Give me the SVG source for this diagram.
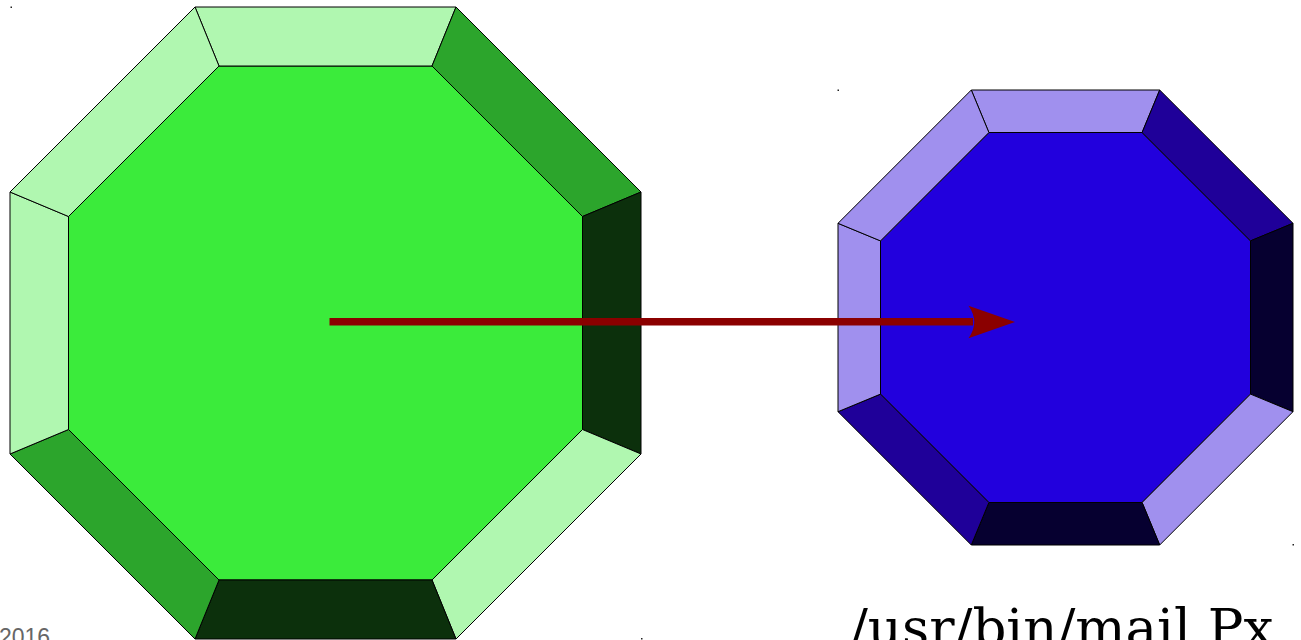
<svg xmlns="http://www.w3.org/2000/svg" width="1301" height="640" viewBox="0 0 1301 640">
<style>
.b{stroke:#000;stroke-width:1;stroke-linejoin:miter}
.gl{fill:#b0f7b0}.gm{fill:#2ca52c}.gd{fill:#0c300c}.gi{fill:#3beb3b}
.bl{fill:#a090ee}.bm{fill:#1f0099}.bd{fill:#060030}.bi{fill:#2200dd}
.dot{fill:#222}
</style>
<rect width="1301" height="640" fill="#fff"/>
<g id="green-octagon">
<polygon class="b gi" points="219,66 432,66 582.5,216.5 582.5,429.5 432,580 219,580 68.5,429.5 68.5,216.5"/>
<polygon class="b gl" points="195,7 456,7 432,66 219,66"/>
<polygon class="b gm" points="456,7 641,192 582.5,216.5 432,66"/>
<polygon class="b gd" points="641,192 641,454 582.5,429.5 582.5,216.5"/>
<polygon class="b gl" points="641,454 456,639 432,580 582.5,429.5"/>
<polygon class="b gd" points="456,639 195,639 219,580 432,580"/>
<polygon class="b gm" points="195,639 10,454 68.5,429.5 219,580"/>
<polygon class="b gl" points="10,454 10,192 68.5,216.5 68.5,429.5"/>
<polygon class="b gl" points="10,192 195,7 219,66 68.5,216.5"/>
</g>
<g id="blue-octagon">
<polygon class="b bi" points="988.9,132.5 1142.1,132.5 1250.5,240.9 1250.5,394.1 1142.1,502.5 988.9,502.5 880.5,394.1 880.5,240.9"/>
<polygon class="b bl" points="971.3,90 1159.7,90 1142.1,132.5 988.9,132.5"/>
<polygon class="b bm" points="1159.7,90 1293,223.3 1250.5,240.9 1142.1,132.5"/>
<polygon class="b bd" points="1293,223.3 1293,411.7 1250.5,394.1 1250.5,240.9"/>
<polygon class="b bl" points="1293,411.7 1159.7,545 1142.1,502.5 1250.5,394.1"/>
<polygon class="b bd" points="1159.7,545 971.3,545 988.9,502.5 1142.1,502.5"/>
<polygon class="b bm" points="971.3,545 838,411.7 880.5,394.1 988.9,502.5"/>
<polygon class="b bl" points="838,411.7 838,223.3 880.5,240.9 880.5,394.1"/>
<polygon class="b bl" points="838,223.3 971.3,90 988.9,132.5 880.5,240.9"/>
</g>
<g id="connectors">
<line x1="329.5" y1="321.7" x2="973" y2="321.7" stroke="#8b0000" stroke-width="7.5"/>
<path d="M1015,322 L968.5,305.7 Q980,322 968.5,338.3 Z" fill="#8b0000"/>
</g>
<g id="marks">
<rect class="dot" x="10.5" y="6.5" width="1.5" height="1.5"/>
<rect class="dot" x="837.5" y="89.5" width="1.5" height="1.5"/>
<rect class="dot" x="641" y="638" width="1.5" height="1.5"/>
<rect class="dot" x="1292.5" y="544" width="1.5" height="1.5"/>
</g>
<g id="labels">
<text x="-1" y="645" font-family="Liberation Sans, Arial, sans-serif" font-size="23" fill="#666">2016</text>
<text x="850" y="646" font-family="DejaVu Serif, serif" font-size="53" fill="#000">/usr/bin/mail Px</text>
</g>
</svg>
